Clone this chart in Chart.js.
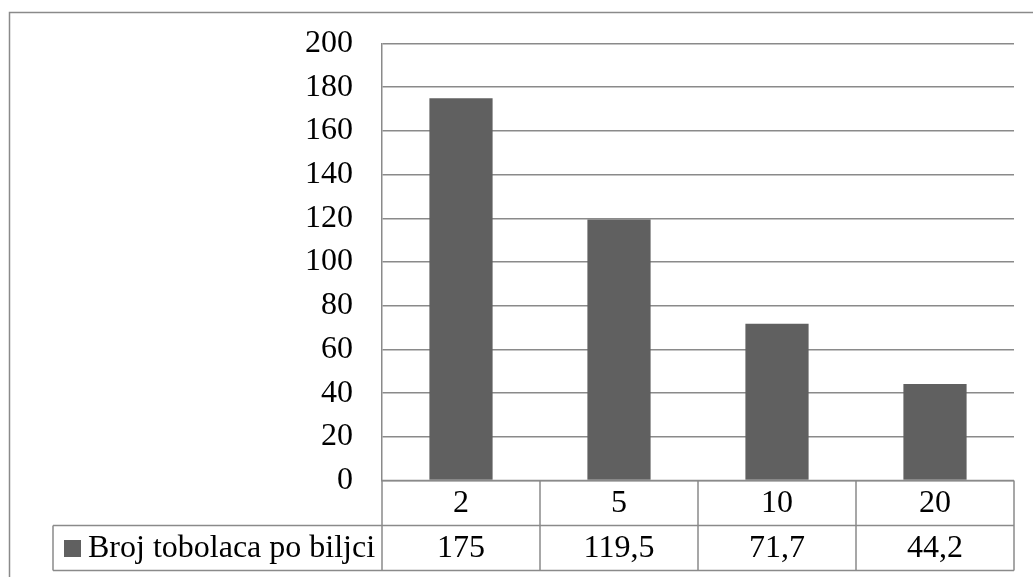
<!DOCTYPE html>
<html>
<head>
<meta charset="utf-8">
<script src="https://cdn.jsdelivr.net/npm/chart.js@4"></script>
<style>
    body { margin: 0; background: #fff; }
    #wrap { width: 1033px; height: 577px; }
</style>
</head>
<body>
<div id="wrap"><canvas id="chart1"></canvas></div>
<script>
const categories = ['2', '5', '10', '20'];
const values = [175, 119.5, 71.7, 44.2];
const valueLabels = ['175', '119,5', '71,7', '44,2'];
const seriesName = 'Broj tobolaca po biljci';

const barColor = '#606060';
const lineColor = '#8a8a8a';
const fontFamily = '"Liberation Serif", "Times New Roman", serif';

// draws the outer frame and the data table under the plot
const tablePlugin = {
    id: 'dataTable',
    afterDraw(chart) {
        const ctx = chart.ctx;
        const area = chart.chartArea;
        const xs = chart.scales.x;
        const rowH = 45;
        const top = area.bottom;
        const mid = top + rowH;
        const bottom = mid + rowH;
        const legendLeft = 53;
        const step = (area.right - area.left) / categories.length;

        ctx.save();
        ctx.strokeStyle = lineColor;
        ctx.lineWidth = 1.5;

        // outer frame (cut off at right and bottom)
        ctx.beginPath();
        ctx.moveTo(9.5, 577);
        ctx.lineTo(9.5, 12.5);
        ctx.lineTo(1033, 12.5);
        ctx.stroke();

        // horizontal table lines
        ctx.beginPath();
        ctx.moveTo(area.left, top);
        ctx.lineTo(area.right, top);
        ctx.moveTo(legendLeft, mid);
        ctx.lineTo(area.right, mid);
        ctx.moveTo(legendLeft, bottom);
        ctx.lineTo(area.right, bottom);
        // vertical table lines
        ctx.moveTo(legendLeft, mid);
        ctx.lineTo(legendLeft, bottom);
        for (let i = 0; i <= categories.length; i++) {
            const x = area.left + step * i;
            ctx.moveTo(x, top);
            ctx.lineTo(x, bottom);
        }
        ctx.stroke();

        ctx.fillStyle = '#000';
        ctx.font = '32px ' + fontFamily;
        ctx.textAlign = 'center';
        ctx.textBaseline = 'middle';
        categories.forEach((c, i) => {
            const x = xs.getPixelForValue(i);
            ctx.fillText(c, x, top + rowH / 2 + 1);
            ctx.fillText(valueLabels[i], x, mid + rowH / 2 + 1);
        });

        // legend key + series name
        ctx.fillStyle = barColor;
        ctx.fillRect(64, 540, 17, 17);
        ctx.fillStyle = '#000';
        ctx.textAlign = 'left';
        ctx.fillText(seriesName, 88, mid + rowH / 2 + 1);
        ctx.restore();
    }
};

const ctx = document.getElementById('chart1').getContext('2d');
new Chart(ctx, {
    type: 'bar',
    data: {
        labels: categories,
        datasets: [{
            label: seriesName,
            data: values,
            backgroundColor: barColor,
            borderWidth: 0,
            categoryPercentage: 0.4,
            barPercentage: 1
        }]
    },
    options: {
        responsive: true,
        maintainAspectRatio: false,
        animation: false,
        layout: {
            padding: { left: 0, right: 19, top: 43.5, bottom: 96.5 }
        },
        plugins: {
            legend: { display: false },
            tooltip: { enabled: false }
        },
        scales: {
            x: {
                display: false
            },
            y: {
                min: 0,
                max: 200,
                afterFit: scale => {
                    scale.width = 382;
                    scale.paddingTop = 19;
                    scale.paddingBottom = 19;
                },
                ticks: {
                    stepSize: 20,
                    padding: 29,
                    color: '#000',
                    font: { family: fontFamily, size: 32 }
                },
                grid: {
                    color: lineColor,
                    lineWidth: 1.5,
                    drawTicks: false
                },
                border: {
                    display: true,
                    color: lineColor,
                    width: 1.5
                }
            }
        }
    },
    plugins: [tablePlugin]
});
</script>
</body>
</html>
